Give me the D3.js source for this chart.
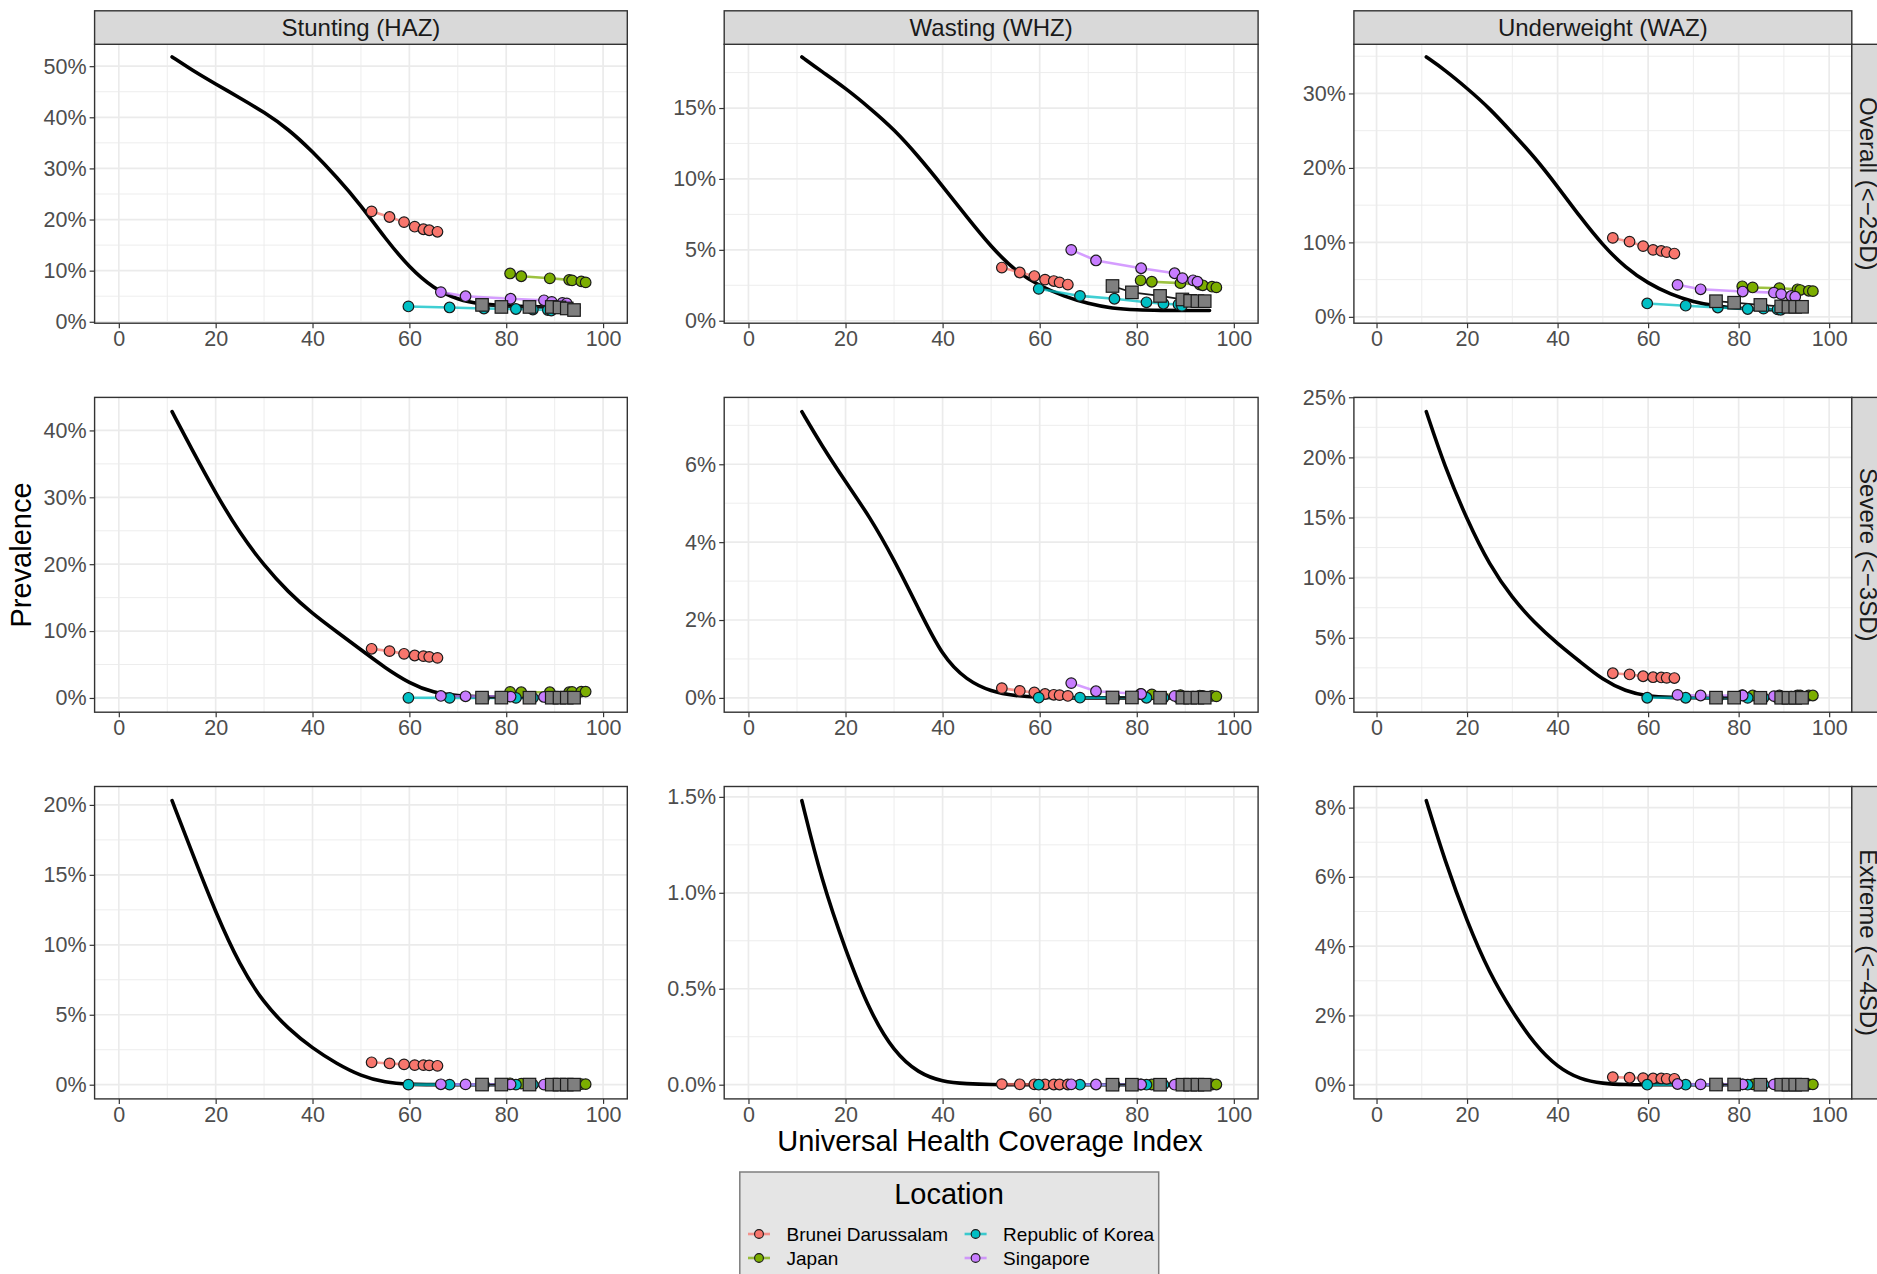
<!DOCTYPE html>
<html><head><meta charset="utf-8">
<script src="https://cdn.jsdelivr.net/npm/d3@7"></script>
<style>html,body{margin:0;padding:0;background:#fff;overflow:hidden}</style>
</head><body>
<svg id="chart" width="1877" height="1274" xmlns="http://www.w3.org/2000/svg"></svg>
<script>
// ---------------- DATA ----------------
const locations = ["Brunei Darussalam", "Japan", "Republic of Korea", "Singapore", "Comparator"];
const locationColors = ["#F8766D", "#7CAE00", "#00BFC4", "#C77CFF", "#7F7F7F"];
const indicators = ["Stunting (HAZ)", "Wasting (WHZ)", "Underweight (WAZ)"];
const severities = ["Overall (<\u22122SD)", "Severe (<\u22123SD)", "Extreme (<\u22124SD)"];

// UHC index of each observation (rows follow `locations`)
const uhcValues = [
  [52.2, 55.9, 58.9, 61.1, 62.9, 64.1, 65.8],
  [80.8, 83.1, 89.0, 93.0, 93.6, 95.5, 96.4],
  [59.8, 68.3, 75.4, 82.0, 85.5, 88.6, 89.3],
  [66.5, 71.6, 80.9, 87.8, 89.4, 91.6, 92.5],
  [75.0, 79.0, 84.8, 89.4, 91.0, 92.5, 94.0]
];

// prevalence (%) — rows follow `locations`
const stuntingOverall = [
  [21.6, 20.5, 19.5, 18.6, 18.1, 17.9, 17.6],
  [9.45, 8.9, 8.5, 8.2, 8.1, 7.9, 7.7],
  [3.0, 2.8, 2.6, 2.5, 2.4, 2.3, 2.2],
  [5.8, 5.0, 4.5, 4.2, 3.9, 3.7, 3.6],
  [3.3, 2.9, 2.9, 2.9, 2.8, 2.6, 2.3]
];
const wastingOverall = [
  [3.75, 3.4, 3.15, 2.9, 2.8, 2.7, 2.55],
  [2.85, 2.75, 2.65, 2.55, 2.5, 2.4, 2.35],
  [2.25, 1.75, 1.55, 1.3, 1.2, 1.15, 1.05],
  [5.0, 4.25, 3.7, 3.35, 3.0, 2.85, 2.75],
  [2.45, 2.0, 1.75, 1.5, 1.4, 1.38, 1.38]
];
const underweightOverall = [
  [10.6, 10.1, 9.5, 9.0, 8.85, 8.7, 8.5],
  [4.1, 3.95, 3.85, 3.7, 3.6, 3.5, 3.45],
  [1.8, 1.5, 1.25, 1.05, 1.1, 1.0, 0.95],
  [4.3, 3.7, 3.4, 3.25, 3.05, 2.8, 2.7],
  [2.1, 1.9, 1.6, 1.4, 1.35, 1.35, 1.35]
];
const stuntingSevere = [
  [7.35, 7.0, 6.6, 6.35, 6.25, 6.15, 6.0],
  [0.9, 0.85, 0.85, 0.85, 0.9, 0.95, 0.95],
  [0.02, 0.01, 0.01, 0.01, 0.01, 0.01, 0.01],
  [0.3, 0.25, 0.2, 0.15, 0.15, 0.1, 0.1],
  [0.05, 0.05, 0.04, 0.04, 0.04, 0.04, 0.04]
];
const wastingSevere = [
  [0.25, 0.18, 0.14, 0.1, 0.08, 0.07, 0.05],
  [0.1, 0.09, 0.07, 0.06, 0.05, 0.05, 0.04],
  [0.005, 0.005, 0.004, 0.004, 0.003, 0.003, 0.003],
  [0.38, 0.17, 0.1, 0.05, 0.04, 0.03, 0.03],
  [0.01, 0.01, 0.005, 0.005, 0.005, 0.005, 0.005]
];
const underweightSevere = [
  [2.05, 1.95, 1.8, 1.72, 1.7, 1.67, 1.65],
  [0.22, 0.2, 0.2, 0.2, 0.2, 0.2, 0.2],
  [0.01, 0.01, 0.005, 0.005, 0.005, 0.005, 0.005],
  [0.25, 0.2, 0.2, 0.15, 0.12, 0.1, 0.1],
  [0.02, 0.02, 0.01, 0.01, 0.01, 0.01, 0.01]
];
const stuntingExtreme = [
  [1.6, 1.52, 1.45, 1.4, 1.4, 1.38, 1.35],
  [0.1, 0.08, 0.06, 0.05, 0.05, 0.04, 0.04],
  [0.005, 0.004, 0.004, 0.003, 0.003, 0.003, 0.003],
  [0.03, 0.02, 0.02, 0.01, 0.01, 0.01, 0.01],
  [0.01, 0.01, 0.01, 0.005, 0.005, 0.005, 0.005]
];
const wastingExtreme = [
  [0.003, 0.002, 0.002, 0.001, 0.001, 0.001, 0.001],
  [0.001, 0.001, 0.001, 0.001, 0.001, 0.001, 0.001],
  [0.0, 0.0, 0.0, 0.0, 0.0, 0.0, 0.0],
  [0.002, 0.001, 0.001, 0.0, 0.0, 0.0, 0.0],
  [0.0, 0.0, 0.0, 0.0, 0.0, 0.0, 0.0]
];
const underweightExtreme = [
  [0.22, 0.2, 0.19, 0.18, 0.18, 0.17, 0.17],
  [0.01, 0.01, 0.01, 0.01, 0.01, 0.01, 0.01],
  [0.0, 0.0, 0.0, 0.0, 0.0, 0.0, 0.0],
  [0.02, 0.01, 0.01, 0.01, 0.01, 0.01, 0.01],
  [0.005, 0.005, 0.0, 0.0, 0.0, 0.0, 0.0]
];

// fitted global curve (black line)
const curveUHC = [11, 15, 20, 25, 30, 35, 40, 45, 50, 55, 60, 65, 70, 75, 80, 85, 90, 95];
const curveStuntingOverall    = [51.8, 49.3, 46.5, 43.8, 41.0, 37.7, 33.3, 28.3, 22.8, 16.3, 10.6, 6.5, 4.3, 3.4, 3.1, 2.95, 2.85, 2.75];
const curveWastingOverall     = [18.6, 17.6, 16.4, 15.0, 13.5, 11.6, 9.5, 7.3, 5.2, 3.5, 2.45, 1.72, 1.2, 0.86, 0.76, 0.73, 0.72, 0.72];
const curveUnderweightOverall = [34.9, 33.2, 30.7, 28.0, 24.7, 21.4, 17.5, 13.4, 9.6, 6.6, 4.5, 3.0, 2.0, 1.45, 1.12, 0.98, 0.9, 0.85];
const curveStuntingSevere     = [42.8, 37.3, 30.6, 24.6, 19.8, 15.8, 12.6, 9.9, 7.2, 4.5, 2.2, 0.75, 0.3, 0.15, 0.1, 0.08, 0.06, 0.05];
const curveWastingSevere      = [7.35, 6.5, 5.55, 4.65, 3.55, 2.3, 1.05, 0.45, 0.16, 0.05, 0.01, 0, 0, 0, 0, 0, 0, 0];
const curveUnderweightSevere  = [23.8, 19.3, 14.8, 11.0, 8.3, 6.2, 4.5, 3.0, 1.5, 0.55, 0.12, 0.03, 0.01, 0, 0, 0, 0, 0];
const curveStuntingExtreme    = [20.3, 16.7, 12.3, 8.5, 5.8, 4.0, 2.6, 1.5, 0.62, 0.15, 0.02, 0, 0, 0, 0, 0, 0, 0];
const curveWastingExtreme     = [1.48, 1.07, 0.7, 0.38, 0.17, 0.06, 0.015, 0.005, 0, 0, 0, 0, 0, 0, 0, 0, 0, 0];
const curveUnderweightExtreme = [8.2, 6.5, 4.7, 3.2, 2.1, 1.15, 0.5, 0.15, 0.03, 0, 0, 0, 0, 0, 0, 0, 0, 0];

// tick labels
const xTicks = [0, 20, 40, 60, 80, 100];
const yTicksStuntingOverall = [0, 10, 20, 30, 40, 50];
const yTicksWastingOverall = [0, 5, 10, 15];
const yTicksUnderweightOverall = [0, 10, 20, 30];
const yTicksStuntingSevere = [0, 10, 20, 30, 40];
const yTicksWastingSevere = [0, 2, 4, 6];
const yTicksUnderweightSevere = [0, 5, 10, 15, 20, 25];
const yTicksStuntingExtreme = [0, 5, 10, 15, 20];
const yTicksWastingExtreme = [0, 0.5, 1.0, 1.5];
const yTicksUnderweightExtreme = [0, 2, 4, 6, 8];

// ---------------- LAYOUT ----------------
const W = 1877, H = 1274;
const font = "'Liberation Sans', Arial, Helvetica, sans-serif";
const panelCols = [[94.6, 627.3], [724.2, 1258.1], [1353.9, 1851.8]];
const panelRows = [[44.3, 323.2], [397.4, 712.2], [786.5, 1098.9]];
const stripTop = 10.8, stripRightW = 34;

const grid = [
  [[curveStuntingOverall, stuntingOverall, yTicksStuntingOverall, 0],
   [curveWastingOverall, wastingOverall, yTicksWastingOverall, 0],
   [curveUnderweightOverall, underweightOverall, yTicksUnderweightOverall, 0]],
  [[curveStuntingSevere, stuntingSevere, yTicksStuntingSevere, 0],
   [curveWastingSevere, wastingSevere, yTicksWastingSevere, 0],
   [curveUnderweightSevere, underweightSevere, yTicksUnderweightSevere, 0]],
  [[curveStuntingExtreme, stuntingExtreme, yTicksStuntingExtreme, 0],
   [curveWastingExtreme, wastingExtreme, yTicksWastingExtreme, 1],
   [curveUnderweightExtreme, underweightExtreme, yTicksUnderweightExtreme, 0]]
];

const svg = d3.select("#chart");
svg.append("rect").attr("width", W).attr("height", H).attr("fill", "#fff");

grid.forEach((row, r) => {
  row.forEach((cell, c) => {
    const [curveVals, series, yTicks, dec] = cell;
    const [x0, x1] = panelCols[c];
    const [y0, y1] = panelRows[r];
    const x = d3.scaleLinear().domain([-5, 105]).range([x0, x1]);
    const allY = curveVals.concat(series.flat());
    const lo = d3.min(allY), hi = d3.max(allY), pad = (hi - lo) * 0.05;
    const y = d3.scaleLinear().domain([lo - pad, hi + pad]).range([y1, y0]);
    const g = svg.append("g");

    g.append("rect").attr("x", x0).attr("y", y0).attr("width", x1 - x0).attr("height", y1 - y0).attr("fill", "#fff");

    // minor gridlines
    const step = yTicks[1] - yTicks[0];
    const yMinor = [];
    for (let v = yTicks[0] - step / 2; v <= yTicks[yTicks.length - 1] + step / 2 + 1e-9; v += step) {
      if (v > y.domain()[0] && v < y.domain()[1]) yMinor.push(v);
    }
    const xMinor = [10, 30, 50, 70, 90];
    g.selectAll(null).data(xMinor).join("line")
      .attr("x1", d => x(d)).attr("x2", d => x(d)).attr("y1", y0).attr("y2", y1)
      .attr("stroke", "#EBEBEB").attr("stroke-width", 0.9);
    g.selectAll(null).data(yMinor).join("line")
      .attr("x1", x0).attr("x2", x1).attr("y1", d => y(d)).attr("y2", d => y(d))
      .attr("stroke", "#EBEBEB").attr("stroke-width", 0.9);
    // major gridlines
    g.selectAll(null).data(xTicks).join("line")
      .attr("x1", d => x(d)).attr("x2", d => x(d)).attr("y1", y0).attr("y2", y1)
      .attr("stroke", "#EBEBEB").attr("stroke-width", 1.7);
    g.selectAll(null).data(yTicks).join("line")
      .attr("x1", x0).attr("x2", x1).attr("y1", d => y(d)).attr("y2", d => y(d))
      .attr("stroke", "#EBEBEB").attr("stroke-width", 1.7);

    // fitted curve
    const curvePts = curveUHC.map((u, i) => [u, curveVals[i]]);
    g.append("path").datum(curvePts)
      .attr("d", d3.line().x(d => x(d[0])).y(d => y(d[1])).curve(d3.curveBasis))
      .attr("fill", "none").attr("stroke", "#000").attr("stroke-width", 3.6)
      .attr("stroke-linejoin", "round").attr("stroke-linecap", "round");

    // location lines
    series.forEach((vals, k) => {
      const pts = vals.map((v, i) => [uhcValues[k][i], v]);
      const isSq = k === 4;
      g.append("path").datum(pts)
        .attr("d", d3.line().x(d => x(d[0])).y(d => y(d[1])))
        .attr("fill", "none")
        .attr("stroke", isSq ? "#1a1a1a" : locationColors[k])
        .attr("stroke-opacity", isSq ? 1 : 0.75)
        .attr("stroke-width", isSq ? 1.8 : 2.6);
    });
    // points (circles)
    series.forEach((vals, k) => {
      if (k === 4) return;
      g.selectAll(null).data(vals.map((v, i) => [uhcValues[k][i], v])).join("circle")
        .attr("cx", d => x(d[0])).attr("cy", d => y(d[1])).attr("r", 5.3)
        .attr("fill", locationColors[k]).attr("stroke", "#1a1a1a").attr("stroke-width", 1.2);
    });
    // squares
    const sq = 12.5;
    g.selectAll(null).data(series[4].map((v, i) => [uhcValues[4][i], v])).join("rect")
      .attr("x", d => x(d[0]) - sq / 2).attr("y", d => y(d[1]) - sq / 2)
      .attr("width", sq).attr("height", sq)
      .attr("fill", locationColors[4]).attr("stroke", "#1a1a1a").attr("stroke-width", 1.2);

    // panel border
    g.append("rect").attr("x", x0).attr("y", y0).attr("width", x1 - x0).attr("height", y1 - y0)
      .attr("fill", "none").attr("stroke", "#333").attr("stroke-width", 1.4);

    // axes
    const fmt = v => (dec ? v.toFixed(dec) : String(v)) + "%";
    const ax = g.append("g").attr("transform", `translate(0,${y1})`)
      .call(d3.axisBottom(x).tickValues(xTicks).tickSize(5).tickPadding(3));
    const ay = g.append("g").attr("transform", `translate(${x0},0)`)
      .call(d3.axisLeft(y).tickValues(yTicks).tickFormat(fmt).tickSize(5).tickPadding(3));
    [ax, ay].forEach(a => {
      a.select(".domain").remove();
      a.selectAll(".tick line").attr("stroke", "#333").attr("stroke-width", 1.2);
      a.selectAll(".tick text").attr("fill", "#4D4D4D").style("font-family", font).style("font-size", "21.5px");
    });
  });
});

// top strips
indicators.forEach((name, c) => {
  const [x0, x1] = panelCols[c];
  svg.append("rect").attr("x", x0).attr("y", stripTop).attr("width", x1 - x0).attr("height", panelRows[0][0] - stripTop)
    .attr("fill", "#D9D9D9").attr("stroke", "#333").attr("stroke-width", 1.4);
  svg.append("text").attr("x", (x0 + x1) / 2).attr("y", (stripTop + panelRows[0][0]) / 2)
    .attr("text-anchor", "middle").attr("dominant-baseline", "central")
    .attr("fill", "#1A1A1A").style("font-family", font).style("font-size", "24px").text(name);
});
// right strips (cut by the picture's right edge, as in the reference)
severities.forEach((name, r) => {
  const [y0, y1] = panelRows[r];
  const xs = panelCols[2][1];
  svg.append("rect").attr("x", xs).attr("y", y0).attr("width", stripRightW).attr("height", y1 - y0)
    .attr("fill", "#D9D9D9").attr("stroke", "#333").attr("stroke-width", 1.4);
  const cx = xs + stripRightW / 2, cy = (y0 + y1) / 2;
  svg.append("text").attr("transform", `translate(${cx},${cy}) rotate(90)`)
    .attr("text-anchor", "middle").attr("dominant-baseline", "central")
    .attr("fill", "#1A1A1A").style("font-family", font).style("font-size", "24px").text(name);
});

// axis titles
svg.append("text").attr("x", 990).attr("y", 1151)
  .attr("text-anchor", "middle").attr("fill", "#000")
  .style("font-family", font).style("font-size", "29px").text("Universal Health Coverage Index");
svg.append("text").attr("transform", `translate(31,555) rotate(-90)`)
  .attr("text-anchor", "middle").attr("fill", "#000")
  .style("font-family", font).style("font-size", "29px").text("Prevalence");

// legend
const lg = svg.append("g");
lg.append("rect").attr("x", 739.8).attr("y", 1172).attr("width", 418.9).attr("height", 140)
  .attr("fill", "#E5E5E5").attr("stroke", "#7F7F7F").attr("stroke-width", 1.5);
lg.append("text").attr("x", 949).attr("y", 1204).attr("text-anchor", "middle")
  .attr("fill", "#000").style("font-family", font).style("font-size", "29px").text("Location");
const legendItems = [0, 1, 2, 3];
const keyX = [759, 759, 975.6, 975.6];
const keyY = [1234, 1258, 1234, 1258];
legendItems.forEach(k => {
  lg.append("line").attr("x1", keyX[k] - 11).attr("x2", keyX[k] + 11).attr("y1", keyY[k]).attr("y2", keyY[k])
    .attr("stroke", locationColors[k]).attr("stroke-opacity", 0.75).attr("stroke-width", 2.6);
  lg.append("circle").attr("cx", keyX[k]).attr("cy", keyY[k]).attr("r", 4.4)
    .attr("fill", locationColors[k]).attr("stroke", "#1a1a1a").attr("stroke-width", 1.1);
  lg.append("text").attr("x", keyX[k] + 27.5).attr("y", keyY[k]).attr("dominant-baseline", "central")
    .attr("fill", "#000").style("font-family", font).style("font-size", "19px").text(locations[k]);
});
</script>
</body></html>
